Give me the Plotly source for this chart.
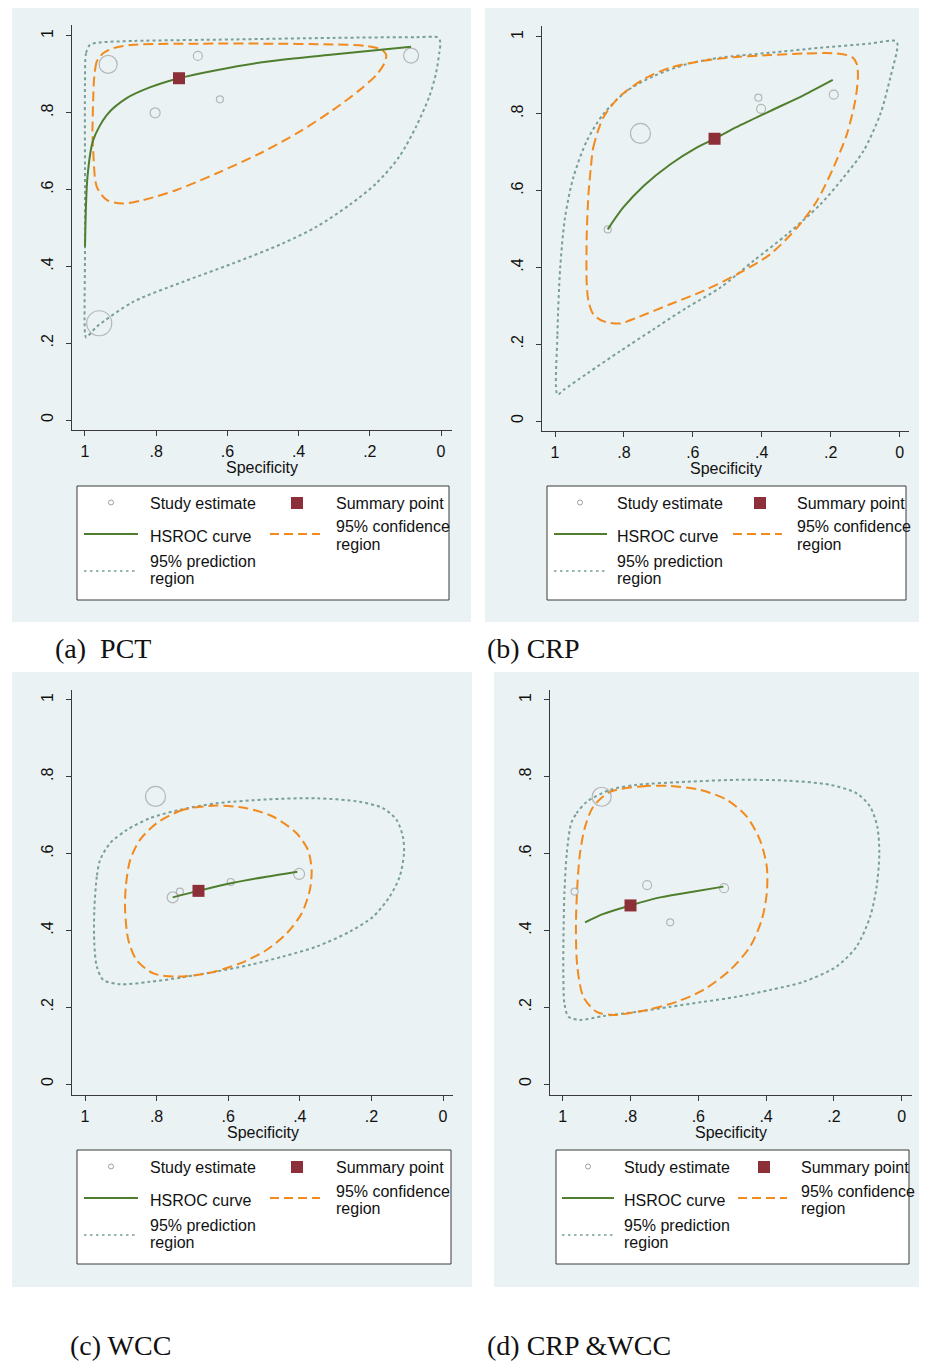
import plotly.graph_objects as go

W, H = 927, 1361
OFF = 8  # the page places the figure 8 px from the top-left corner
FW, FH = W, H - OFF

# ---------------- data (specificity, sensitivity) ----------------
tick_vals = [0, 0.2, 0.4, 0.6, 0.8, 1]
tick_text = ["0", ".2", ".4", ".6", ".8", "1"]

# (a) PCT
a_study_spec = [0.935, 0.683, 0.803, 0.621, 0.084, 0.960]
a_study_sens = [0.926, 0.948, 0.800, 0.835, 0.949, 0.252]
a_study_size = [18, 9, 10, 7, 15, 25]
a_summary = (0.736, 0.890)
a_hsroc_spec = [1.000, 0.993, 0.977, 0.939, 0.883, 0.818, 0.736, 0.631, 0.491, 0.304, 0.084]
a_hsroc_sens = [0.451, 0.634, 0.729, 0.794, 0.838, 0.866, 0.890, 0.911, 0.933, 0.952, 0.972]
a_conf_spec = [0.958, 0.967, 0.974, 0.977, 0.979, 0.977, 0.967, 0.939, 0.893, 0.836, 0.743, 0.631, 0.509,
               0.397, 0.304, 0.229, 0.182, 0.159, 0.154, 0.168, 0.210, 0.304, 0.491, 0.678, 0.864, 0.921, 0.949]
a_conf_sens = [0.946, 0.933, 0.894, 0.833, 0.747, 0.703, 0.608, 0.573, 0.564, 0.573, 0.599, 0.642, 0.694,
               0.751, 0.807, 0.859, 0.898, 0.929, 0.951, 0.965, 0.974, 0.978, 0.980, 0.980, 0.977, 0.968, 0.955]
a_pred_spec = [0.986, 0.997, 1.000, 1.000, 1.000, 1.000, 0.997, 0.967, 0.864, 0.724, 0.584, 0.444, 0.350,
               0.257, 0.182, 0.117, 0.070, 0.033, 0.014, 0.005, 0.002, 0.009, 0.070, 0.304, 0.584, 0.864, 0.958]
a_pred_sens = [0.977, 0.955, 0.877, 0.660, 0.443, 0.226, 0.215, 0.243, 0.308, 0.360, 0.408, 0.460, 0.503,
               0.560, 0.616, 0.686, 0.764, 0.842, 0.903, 0.955, 0.985, 0.996, 0.997, 0.995, 0.991, 0.987, 0.983]

# (b) CRP
b_study_spec = [0.847, 0.752, 0.410, 0.402, 0.191]
b_study_sens = [0.499, 0.749, 0.842, 0.813, 0.850]
b_study_size = [7, 20, 7, 9, 9]
b_summary = (0.537, 0.735)
b_hsroc_spec = [0.847, 0.802, 0.743, 0.666, 0.589, 0.537, 0.472, 0.376, 0.279, 0.194]
b_hsroc_sens = [0.499, 0.556, 0.612, 0.668, 0.712, 0.735, 0.766, 0.807, 0.848, 0.888]
b_conf_spec = [0.896, 0.889, 0.860, 0.811, 0.743, 0.666, 0.569, 0.472, 0.376, 0.279, 0.182, 0.138, 0.124,
               0.121, 0.129, 0.153, 0.192, 0.240, 0.298, 0.376, 0.472, 0.569, 0.666, 0.763, 0.811, 0.860,
               0.889, 0.903, 0.908, 0.908, 0.903]
b_conf_sens = [0.660, 0.712, 0.790, 0.846, 0.890, 0.920, 0.938, 0.948, 0.953, 0.957, 0.957, 0.948, 0.929,
               0.894, 0.833, 0.747, 0.660, 0.573, 0.503, 0.434, 0.382, 0.339, 0.304, 0.269, 0.254, 0.260,
               0.278, 0.313, 0.356, 0.486, 0.590]
b_pred_spec = [0.993, 0.993, 0.985, 0.971, 0.947, 0.908, 0.860, 0.792, 0.714, 0.618, 0.521, 0.376, 0.230,
               0.085, 0.013, 0.006, 0.027, 0.056, 0.105, 0.163, 0.230, 0.327, 0.424, 0.521, 0.618, 0.714,
               0.811, 0.908, 0.975]
b_pred_sens = [0.069, 0.226, 0.399, 0.530, 0.634, 0.729, 0.799, 0.859, 0.898, 0.929, 0.946, 0.959, 0.972,
               0.983, 0.990, 0.981, 0.894, 0.799, 0.703, 0.634, 0.564, 0.486, 0.417, 0.347, 0.295, 0.239,
               0.182, 0.123, 0.081]

# (c) WCC
c_study_spec = [0.803, 0.755, 0.735, 0.593, 0.402]
c_study_sens = [0.749, 0.486, 0.501, 0.526, 0.547]
c_study_size = [20, 11, 7, 7, 11]
c_summary = (0.683, 0.503)
c_hsroc_spec = [0.755, 0.683, 0.586, 0.493, 0.407]
c_hsroc_sens = [0.486, 0.503, 0.524, 0.540, 0.553]
c_conf_spec = [0.633, 0.726, 0.800, 0.847, 0.874, 0.886, 0.888, 0.879, 0.856, 0.809, 0.744, 0.660, 0.567,
               0.493, 0.437, 0.395, 0.372, 0.367, 0.377, 0.409, 0.474, 0.549]
c_conf_sens = [0.725, 0.714, 0.679, 0.635, 0.583, 0.514, 0.453, 0.375, 0.323, 0.288, 0.280, 0.288, 0.314,
               0.349, 0.392, 0.444, 0.505, 0.557, 0.609, 0.653, 0.696, 0.718]
c_pred_spec = [0.958, 0.967, 0.974, 0.974, 0.967, 0.949, 0.902, 0.819, 0.726, 0.633, 0.540, 0.447, 0.353,
               0.260, 0.195, 0.149, 0.121, 0.109, 0.112, 0.130, 0.167, 0.233, 0.353, 0.493, 0.633, 0.735,
               0.819, 0.884, 0.930]
c_pred_sens = [0.583, 0.540, 0.453, 0.366, 0.306, 0.271, 0.260, 0.266, 0.278, 0.293, 0.310, 0.332, 0.358,
               0.397, 0.436, 0.488, 0.540, 0.601, 0.644, 0.688, 0.718, 0.735, 0.744, 0.741, 0.731, 0.714,
               0.692, 0.661, 0.627]

# (d) CRP & WCC
d_study_spec = [0.885, 0.965, 0.751, 0.683, 0.524]
d_study_sens = [0.748, 0.501, 0.518, 0.421, 0.510]
d_study_size = [19, 7, 9, 7, 9]
d_summary = (0.800, 0.465)
d_hsroc_spec = [0.934, 0.880, 0.800, 0.723, 0.634, 0.526]
d_hsroc_sens = [0.421, 0.443, 0.465, 0.484, 0.498, 0.514]
d_conf_spec = [0.683, 0.752, 0.860, 0.910, 0.934, 0.949, 0.957, 0.961, 0.957, 0.939, 0.900, 0.851, 0.752,
               0.664, 0.585, 0.506, 0.447, 0.413, 0.398, 0.398, 0.418, 0.457, 0.516, 0.595]
d_conf_sens = [0.776, 0.776, 0.761, 0.722, 0.670, 0.601, 0.514, 0.410, 0.306, 0.227, 0.188, 0.180, 0.193,
               0.214, 0.245, 0.297, 0.358, 0.427, 0.497, 0.566, 0.635, 0.696, 0.740, 0.766]
d_pred_spec = [0.975, 0.959, 0.929, 0.860, 0.782, 0.634, 0.487, 0.339, 0.211, 0.133, 0.093, 0.072, 0.066,
               0.074, 0.093, 0.133, 0.192, 0.290, 0.388, 0.487, 0.585, 0.683, 0.782, 0.880, 0.949, 0.983,
               0.995, 0.998, 0.998, 0.995, 0.988]
d_pred_sens = [0.679, 0.705, 0.735, 0.766, 0.779, 0.787, 0.792, 0.790, 0.779, 0.757, 0.722, 0.670, 0.601,
               0.514, 0.436, 0.358, 0.306, 0.266, 0.245, 0.227, 0.214, 0.201, 0.188, 0.177, 0.167, 0.175,
               0.210, 0.280, 0.366, 0.497, 0.601]

captions = ["(a)  PCT", "(b) CRP", "(c) WCC", "(d) CRP &WCC"]

# ---------------- styles ----------------
BG = "#EAF2F3"
GREEN = "#4F7F2E"
ORANGE = "#F28A1E"
TEAL = "#7A9E98"
MAROON = "#8C2F39"
CIRC = "#9E9E9E"
AXC = "#3A3A3A"
SANS = "Liberation Sans, Arial, sans-serif"
SERIF = "Liberation Serif, Times New Roman, serif"


def px(x):
    return (x - OFF) / FW


def py(y):
    return 1 - (y - OFF) / FH


panels = [
    dict(data=(a_study_spec, a_study_sens, a_study_size, a_summary, a_hsroc_spec, a_hsroc_sens,
               a_conf_spec, a_conf_sens, a_pred_spec, a_pred_sens),
         plot=(72, 25, 452, 430), xr=[1.0365, -0.0309], yr=[-0.026, 1.0286],
         bg=(12, 8, 471, 622),
         leg=dict(box=(77, 486, 449, 600), sym=111, txt=148, sq=297, txt2=334,
                  l0=84, l1=138, d0=270, d1=320),
         cap=(53, 648)),
    dict(data=(b_study_spec, b_study_sens, b_study_size, b_summary, b_hsroc_spec, b_hsroc_sens,
               b_conf_spec, b_conf_sens, b_pred_spec, b_pred_sens),
         plot=(542, 26, 909, 431), xr=[1.0378, -0.0273], yr=[-0.026, 1.0286],
         bg=(485, 8, 935, 622),
         leg=dict(box=(547, 486, 906, 600), sym=580, txt=615, sq=760, txt2=795,
                  l0=554, l1=607, d0=733, d1=782),
         cap=(485, 648)),
    dict(data=(c_study_spec, c_study_sens, c_study_size, c_summary, c_hsroc_spec, c_hsroc_sens,
               c_conf_spec, c_conf_sens, c_pred_spec, c_pred_sens),
         plot=(72, 690, 453, 1095), xr=[1.0363, -0.0279], yr=[-0.0286, 1.026],
         bg=(12, 672, 472, 1287),
         leg=dict(box=(77, 1150, 451, 1264), sym=111, txt=148, sq=297, txt2=334,
                  l0=84, l1=138, d0=270, d1=320),
         cap=(68, 1345)),
    dict(data=(d_study_spec, d_study_sens, d_study_size, d_summary, d_hsroc_spec, d_hsroc_sens,
               d_conf_spec, d_conf_sens, d_pred_spec, d_pred_sens),
         plot=(550, 690, 912, 1095), xr=[1.0375, -0.0304], yr=[-0.0286, 1.026],
         bg=(494, 672, 935, 1287),
         leg=dict(box=(556, 1150, 909, 1264), sym=588, txt=622, sq=764, txt2=799,
                  l0=562, l1=614, d0=738, d1=787),
         cap=(485, 1345)),
]

fig = go.Figure()
shapes = []
annotations = []


def closed(a):
    return list(a) + [a[0]]


for i, p in enumerate(panels):
    n = "" if i == 0 else str(i + 1)
    xa, ya = "x" + n, "y" + n
    (s_sp, s_se, s_sz, summ, h_sp, h_se, c_sp, c_se, p_sp, p_se) = p["data"]

    fig.add_trace(go.Scatter(x=closed(p_sp), y=closed(p_se), mode="lines", xaxis=xa, yaxis=ya,
                             line=dict(color=TEAL, width=2, dash="3px,3px", shape="spline", smoothing=0.8),
                             hoverinfo="skip"))
    fig.add_trace(go.Scatter(x=closed(c_sp), y=closed(c_se), mode="lines", xaxis=xa, yaxis=ya,
                             line=dict(color=ORANGE, width=2, dash="10px,5px", shape="spline", smoothing=0.8),
                             hoverinfo="skip"))
    fig.add_trace(go.Scatter(x=s_sp, y=s_se, mode="markers", xaxis=xa, yaxis=ya,
                             marker=dict(symbol="circle-open", size=s_sz, color=CIRC, line=dict(width=1.2, color=CIRC))))
    fig.add_trace(go.Scatter(x=h_sp, y=h_se, mode="lines", xaxis=xa, yaxis=ya,
                             line=dict(color=GREEN, width=2, shape="spline", smoothing=0.8)))
    fig.add_trace(go.Scatter(x=[summ[0]], y=[summ[1]], mode="markers", xaxis=xa, yaxis=ya,
                             marker=dict(symbol="square", size=12, color=MAROON)))

    x0, y0, x1, y1 = p["plot"]
    axis_common = dict(showgrid=False, zeroline=False, showline=True, linecolor=AXC, linewidth=1.2,
                       ticks="outside", ticklen=5, tickcolor=AXC, tickwidth=1,
                       tickvals=tick_vals, ticktext=tick_text,
                       tickfont=dict(family=SANS, size=16, color="#111111"))
    fig.layout["xaxis" + n] = dict(domain=[px(x0), px(x1)], range=p["xr"], anchor=ya,
                                   ticklabelstandoff=2, **axis_common)
    fig.layout["yaxis" + n] = dict(domain=[py(y1), py(y0)], range=p["yr"], anchor=xa,
                                   tickangle=-90, ticklabelstandoff=7, **axis_common)

    # panel background
    bx0, by0, bx1, by1 = p["bg"]
    shapes.append(dict(type="rect", xref="paper", yref="paper", x0=px(bx0), x1=px(bx1),
                       y0=py(by1), y1=py(by0), fillcolor=BG, line=dict(width=0), layer="below"))

    # x-axis title
    annotations.append(dict(text="Specificity", xref="paper", yref="paper", x=px((x0 + x1) / 2),
                            y=py(y1 + 37), showarrow=False, xanchor="center", yanchor="middle",
                            font=dict(family=SANS, size=16, color="#111111")))

    # legend box
    L = p["leg"]
    lx0, ly0, lx1, ly1 = L["box"]
    shapes.append(dict(type="rect", xref="paper", yref="paper", x0=px(lx0), x1=px(lx1),
                       y0=py(ly1), y1=py(ly0), fillcolor="white", line=dict(color=AXC, width=1)))
    r1 = ly0 + 17
    r2 = ly0 + 49
    r3 = ly0 + 85
    # study estimate symbol
    shapes.append(dict(type="circle", xref="paper", yref="paper", x0=px(L["sym"] - 2.5), x1=px(L["sym"] + 2.5),
                       y0=py(r1 - 3), y1=py(r1 + 2), line=dict(color=CIRC, width=1)))
    # summary square
    shapes.append(dict(type="rect", xref="paper", yref="paper", x0=px(L["sq"] - 6), x1=px(L["sq"] + 6),
                       y0=py(r1 + 6), y1=py(r1 - 6), fillcolor=MAROON, line=dict(width=0)))
    # hsroc line
    shapes.append(dict(type="line", xref="paper", yref="paper", x0=px(L["l0"]), x1=px(L["l1"]),
                       y0=py(r2 - 1), y1=py(r2 - 1), line=dict(color=GREEN, width=2)))
    # confidence dashes
    shapes.append(dict(type="line", xref="paper", yref="paper", x0=px(L["d0"]), x1=px(L["d1"]),
                       y0=py(r2 - 1), y1=py(r2 - 1), line=dict(color=ORANGE, width=2, dash="9px,5px")))
    # prediction dots
    shapes.append(dict(type="line", xref="paper", yref="paper", x0=px(L["l0"]), x1=px(L["l1"]),
                       y0=py(r3), y1=py(r3), line=dict(color=TEAL, width=1.6, dash="2.5px,3.5px")))

    def txt(s, x, y):
        annotations.append(dict(text=s, xref="paper", yref="paper", x=px(x), y=py(y), showarrow=False,
                                xanchor="left", yanchor="middle",
                                font=dict(family=SANS, size=16, color="#111111")))

    txt("Study estimate", L["txt"], r1)
    txt("Summary point", L["txt2"], r1)
    txt("HSROC curve", L["txt"], r2 + 1)
    txt("95% confidence", L["txt2"], ly0 + 41)
    txt("region", L["txt2"], ly0 + 58)
    txt("95% prediction", L["txt"], ly0 + 75)
    txt("region", L["txt"], ly0 + 92)

    # caption
    cx, cy = p["cap"]
    annotations.append(dict(text=captions[i], xref="paper", yref="paper", x=px(cx), y=py(cy),
                            showarrow=False, xanchor="left", yanchor="middle",
                            font=dict(family=SERIF, size=28, color="#111111")))

fig.update_layout(width=FW, height=FH, margin=dict(l=0, r=0, t=0, b=0),
                  paper_bgcolor="white", plot_bgcolor="white", showlegend=False,
                  shapes=shapes, annotations=annotations)

fig.write_html("out.html")
